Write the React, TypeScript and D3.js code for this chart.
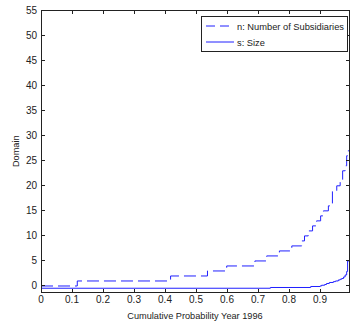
import React from "react";
import * as d3 from "d3";

// cumulative probability at which each step starts, and the value held from there
const nProb = [0, 0.117, 0.418, 0.537, 0.599, 0.69, 0.728, 0.769, 0.809, 0.841, 0.85, 0.862, 0.876, 0.889, 0.902, 0.911, 0.927, 0.94, 0.954, 0.965, 0.973, 0.981, 0.986, 0.991];
const nVals = [0, 1, 2, 3, 4, 5, 6, 7, 8, 9, 10, 11, 12, 13, 14, 15, 16, 19, 20, 21, 23, 24, 26, 27];

const sProb = [0, 0.74, 0.87, 0.9, 0.905, 0.915, 0.921, 0.93, 0.943, 0.95, 0.959, 0.965, 0.97, 0.976, 0.981, 0.986, 0.989];
const sVals = [-0.45, -0.3, -0.1, 0, 0.15, 0.3, 0.5, 0.7, 0.87, 1.0, 1.2, 1.35, 1.5, 1.8, 2.2, 2.9, 5.0];

const xTicks = [0, 0.1, 0.2, 0.3, 0.4, 0.5, 0.6, 0.7, 0.8, 0.9];
const yTicks = [0, 5, 10, 15, 20, 25, 30, 35, 40, 45, 50, 55];

const legendLabels = ["n: Number of Subsidiaries", "s: Size"];

const W = 350, H = 327;
const m = { left: 41, right: 1, top: 10.5, bottom: 35 };
const xMax = 0.9935;

export default function App() {
  const x = d3.scaleLinear().domain([0, xMax]).range([m.left, W - m.right]);
  const y = d3.scaleLinear().domain([-1.2, 55]).range([H - m.bottom, m.top]);

  const line = d3.line<[number, number]>()
    .x(d => x(d[0]))
    .y(d => y(d[1]))
    .curve(d3.curveStepAfter);

  const nPts: [number, number][] = nProb.map((p, i) => [p, nVals[i]]);
  nPts.push([xMax, nVals[nVals.length - 1]]);
  const sPts: [number, number][] = sProb.map((p, i) => [p, sVals[i]]);
  sPts.push([xMax, sVals[sVals.length - 1]]);

  const x0 = x.range()[0], x1 = x.range()[1];
  const y0 = y.range()[0], y1 = y.range()[1];
  const tk = 3.5;
  const font = "'Liberation Sans', Arial, sans-serif";

  const lg = { x: 201, y: 16, w: 146, h: 35 };

  return (
    <svg width={W} height={H} style={{ position: "absolute", left: 0, top: 0, background: "#fff" }}>
      <rect x={0} y={0} width={W} height={H} fill="#fff" />

      <path d={line(nPts) || ""} fill="none" stroke="#2020ff" strokeWidth={1} strokeDasharray="12,5" />
      <path d={line(sPts) || ""} fill="none" stroke="#2020ff" strokeWidth={1} />

      <g stroke="#222" strokeWidth={1} shapeRendering="crispEdges" fill="none">
        <rect x={x0} y={y1} width={x1 - x0} height={y0 - y1} />
        {xTicks.map(t => (
          <g key={"x" + t}>
            <line x1={x(t)} x2={x(t)} y1={y0} y2={y0 - tk} />
            <line x1={x(t)} x2={x(t)} y1={y1} y2={y1 + tk} />
          </g>
        ))}
        {yTicks.map(t => (
          <g key={"y" + t}>
            <line x1={x0} x2={x0 + tk} y1={y(t)} y2={y(t)} />
            <line x1={x1} x2={x1 - tk} y1={y(t)} y2={y(t)} />
          </g>
        ))}
      </g>

      <g fontFamily={font} fontSize={10} fill="#222">
        {xTicks.map(t => (
          <text key={"xl" + t} x={x(t)} y={y0 + 11} textAnchor="middle">{d3.format("")(t)}</text>
        ))}
        {yTicks.map(t => (
          <text key={"yl" + t} x={x0 - 4} y={y(t) + 3.5} textAnchor="end">{t}</text>
        ))}
      </g>

      <text x={(x0 + x1) / 2} y={H - 8} textAnchor="middle" fontFamily={font} fontSize={9.2} fill="#222">
        Cumulative Probability Year 1996
      </text>
      <text transform={`translate(19, ${(y0 + y1) / 2}) rotate(-90)`} textAnchor="middle" fontFamily={font} fontSize={9.2} fill="#222">
        Domain
      </text>

      <g>
        <rect x={lg.x} y={lg.y} width={lg.w} height={lg.h} fill="#fff" stroke="#222" strokeWidth={1} shapeRendering="crispEdges" />
        {legendLabels.map((lab, i) => {
          const ly = lg.y + 10 + i * 16;
          return (
            <g key={lab}>
              <line x1={lg.x + 5} x2={lg.x + 33} y1={ly} y2={ly} stroke="#2020ff" strokeWidth={1}
                strokeDasharray={i === 0 ? "9,5" : undefined} />
              <text x={lg.x + 36} y={ly + 3.5} fontFamily={font} fontSize={9.3} fill="#222">{lab}</text>
            </g>
          );
        })}
      </g>
    </svg>
  );
}
